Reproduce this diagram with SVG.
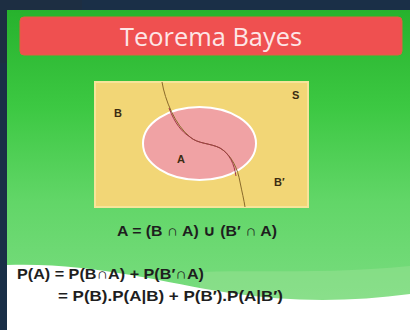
<svg xmlns="http://www.w3.org/2000/svg" width="410" height="330" viewBox="0 0 410 330">
<defs>
<linearGradient id="bg" x1="0" y1="0" x2="0" y2="1">
<stop offset="0" stop-color="#27b22d"/>
<stop offset="0.3" stop-color="#3cc842"/>
<stop offset="0.6" stop-color="#62d668"/>
<stop offset="1" stop-color="#80de86"/>
</linearGradient>
<style>
.lbl{font-family:"Liberation Sans","Open Sans",sans-serif;font-weight:bold;font-size:11px;fill:#3b2c12}
.eq{font-family:"Liberation Sans","DejaVu Sans",sans-serif;font-weight:bold;font-size:15px;fill:#1e1e1e}
</style>
</defs>
<rect width="410" height="330" fill="#1a2f47"/>
<rect width="82" height="63" fill="#1d2e42"/>
<rect x="7" y="10" width="403" height="320" fill="url(#bg)"/>
<path d="M200,330 L200,272 C260,270 330,274 410,266 L410,330 Z" fill="#a8e6a0" opacity="0.35"/>
<path d="M7,265 C90,262 160,282 230,293 C290,302 350,302 410,294 L410,330 L7,330 Z" fill="#ffffff"/>
<g id="title">
<rect x="20" y="17" width="382" height="38" rx="4" fill="#ef5050" stroke="#e06040" stroke-width="1"/>
<text x="211" y="46" text-anchor="middle" font-family="'Open Sans','DejaVu Sans',sans-serif" font-size="26" fill="#fde6e6" textLength="182" lengthAdjust="spacingAndGlyphs">Teorema Bayes</text>
</g>
<g id="venn">
<rect x="95" y="82" width="213" height="125" fill="#f2d676" stroke="#f7e49a" stroke-width="2"/>
<ellipse cx="199.5" cy="143.5" rx="56.5" ry="36.5" fill="#f0a2a4" stroke="#ffffff" stroke-width="2"/>
<path d="M162,82 C165,100 175,125 190,137 C198,144 210,143 220,148 C232,155 238,170 240,182 C242,192 244,200 245,207" fill="none" stroke="#8a6a2a" stroke-width="1"/>
<path d="M169,108 C175,124 182,132 190,137 C198,144 210,143 220,148 C230,154 234,164 236,176" fill="none" stroke="#a03848" stroke-width="1"/>
<text class="lbl" x="114" y="117">B</text>
<text class="lbl" x="292" y="99">S</text>
<text class="lbl" x="177" y="163" fill="#5a1020">A</text>
<text class="lbl" x="274" y="186">B′</text>
</g>
<g id="formulas">
<text class="eq" x="197" y="236" text-anchor="middle" textLength="160" lengthAdjust="spacingAndGlyphs">A = (B ∩ A) ∪ (B′ ∩ A)</text>
<text class="eq" x="17" y="279" textLength="187" lengthAdjust="spacingAndGlyphs">P(A) = P(B∩A) + P(B′∩A)</text>
<text class="eq" x="58" y="301" textLength="225" lengthAdjust="spacingAndGlyphs">= P(B).P(A|B) + P(B′).P(A|B′)</text>
</g>
</svg>
